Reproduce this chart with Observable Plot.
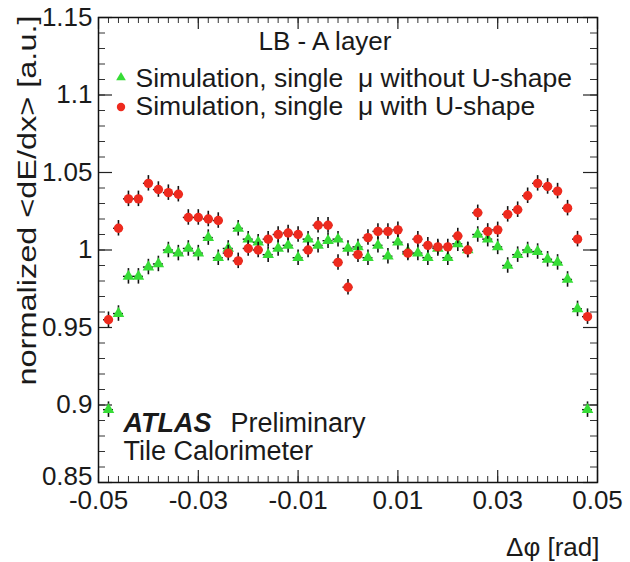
<!DOCTYPE html>
<html><head><meta charset="utf-8">
<script src="https://cdn.jsdelivr.net/npm/d3@7"></script>
<script src="https://cdn.jsdelivr.net/npm/@observablehq/plot@0.6"></script>
<style>body{margin:0;background:#fff}</style>
</head><body><div id="chart"></div>
<script>
// ---- data ----
const phi = [-0.048,-0.046,-0.044,-0.042,-0.040,-0.038,-0.036,-0.034,-0.032,-0.030,-0.028,-0.026,-0.024,-0.022,-0.020,-0.018,-0.016,-0.014,-0.012,-0.010,-0.008,-0.006,-0.004,-0.002,0.000,0.002,0.004,0.006,0.008,0.010,0.012,0.014,0.016,0.018,0.020,0.022,0.024,0.026,0.028,0.030,0.032,0.034,0.036,0.038,0.040,0.042,0.044,0.046,0.048];
const withoutUShape = [0.897,0.959,0.983,0.983,0.989,0.991,1.000,0.998,1.001,0.998,1.008,0.995,1.001,1.014,1.007,1.005,0.997,1.001,1.003,0.995,1.007,1.003,1.006,1.007,1.001,1.002,0.995,1.003,0.996,1.005,0.999,0.998,0.995,1.001,0.995,1.004,1.000,1.010,1.007,1.002,0.990,0.997,1.000,0.999,0.994,0.992,0.981,0.962,0.897];
const withUShape = [0.955,1.014,1.033,1.033,1.043,1.039,1.037,1.036,1.021,1.021,1.020,1.019,0.998,0.993,1.001,1.000,1.007,1.010,1.011,1.010,1.000,1.016,1.016,0.992,0.976,0.997,1.008,1.012,1.012,1.013,0.998,1.007,1.003,1.002,1.002,1.009,1.000,1.024,1.012,1.013,1.023,1.026,1.035,1.043,1.041,1.038,1.027,1.007,0.957];
const yErr = 0.005;      // half height of error bars
const xErr = 0.001;      // half bin width
const seriesNames = ["Simulation, single\u00a0\u00a0\u03bc without U-shape", "Simulation, single\u00a0\u00a0\u03bc with U-shape"];
const xTickValues = [-0.05,-0.03,-0.01,0.01,0.03,0.05];
const xTickLabels = ["-0.05","-0.03","-0.01","0.01","0.03","0.05"];
const yTickValues = [0.9,0.95,1,1.05,1.1,1.15];
const yTickLabels = ["0.9","0.95","1","1.05","1.1","1.15"];
const yBottomValue = [0.85];
const yBottomLabel = ["0.85"];
const xTitle = "\u0394\u03c6 [rad]";
const yTitle = "normalized <dE/dx> [a.u.]";
const label = "LB - A layer";

// ---- layout ----
const W = 630, H = 562, mL = 98, mR = 33, mT = 17, mB = 80;
const X0 = -0.05, X1 = 0.05, Y0 = 0.85, Y1 = 1.15;
const ux = (X1 - X0) / (W - mL - mR), uy = (Y1 - Y0) / (H - mT - mB);
const font = "'Liberation Sans', Arial, Helvetica, sans-serif";
const GREEN = "#36dc36", RED = "#ee2a1e", INK = "#1a1a1a";

const green = phi.map((x, i) => ({x, y: withoutUShape[i]}));
const red = phi.map((x, i) => ({x, y: withUShape[i]}));

const xMinor = d3.range(-50, 51, 2).map(d => d / 1000);
const yMinor = d3.range(85, 116).map(d => d / 100);
const yMajor = yBottomValue.concat(yTickValues);

function errBars(data) {
  return [
    Plot.ruleX(data, {x: "x", y1: d => d.y - yErr, y2: d => d.y + yErr, stroke: "#111", strokeWidth: 1.6}),
    Plot.ruleY(data, {y: "y", x1: d => d.x - xErr, x2: d => d.x + xErr, stroke: "#111", strokeWidth: 1.4})
  ];
}

const chart = Plot.plot({
  width: W, height: H,
  marginLeft: mL, marginRight: mR, marginTop: mT, marginBottom: mB,
  x: {domain: [X0, X1], label: null},
  y: {domain: [Y0, Y1], label: null},
  style: {fontFamily: font, background: "#fff", color: INK},
  marks: [
    // inner ticks on all four sides
    Plot.ruleX(xMinor, {x: d => d, y1: Y0, y2: Y0 + 6 * uy, stroke: "#333", strokeWidth: 1}),
    Plot.ruleX(xMinor, {x: d => d, y1: Y1 - 6 * uy, y2: Y1, stroke: "#333", strokeWidth: 1}),
    Plot.ruleX(xTickValues, {x: d => d, y1: Y0, y2: Y0 + 12 * uy, stroke: "#222", strokeWidth: 1.2}),
    Plot.ruleX(xTickValues, {x: d => d, y1: Y1 - 12 * uy, y2: Y1, stroke: "#222", strokeWidth: 1.2}),
    Plot.ruleY(yMinor, {y: d => d, x1: X0, x2: X0 + 7 * ux, stroke: "#333", strokeWidth: 1}),
    Plot.ruleY(yMinor, {y: d => d, x1: X1 - 7 * ux, x2: X1, stroke: "#333", strokeWidth: 1}),
    Plot.ruleY(yMajor, {y: d => d, x1: X0, x2: X0 + 14 * ux, stroke: "#222", strokeWidth: 1.2}),
    Plot.ruleY(yMajor, {y: d => d, x1: X1 - 14 * ux, x2: X1, stroke: "#222", strokeWidth: 1.2}),
    Plot.frame({stroke: "#111", strokeWidth: 1.5}),
    Plot.axisX({anchor: "bottom", ticks: xTickValues, tickSize: 0, tickPadding: 8, fontSize: 26, label: null,
      tickFormat: d => xTickLabels[xTickValues.indexOf(d)], fill: INK}),
    Plot.axisY({anchor: "left", ticks: yTickValues, tickSize: 0, tickPadding: 6, fontSize: 26, label: null,
      tickFormat: d => yTickLabels[yTickValues.indexOf(d)], fill: INK}),
    Plot.axisY({anchor: "left", ticks: yBottomValue, tickSize: 0, tickPadding: 6, fontSize: 26, label: null, dy: -6,
      tickFormat: d => yBottomLabel[yBottomValue.indexOf(d)], fill: INK}),
    // series
    ...errBars(green),
    Plot.dot(green, {x: "x", y: "y", symbol: "triangle", r: 4.3, fill: GREEN, stroke: null}),
    ...errBars(red),
    Plot.dot(red, {x: "x", y: "y", symbol: "circle", r: 4.7, fill: RED, stroke: null}),
    // titles
    Plot.text([xTitle], {text: d => d, frameAnchor: "bottom-right", dx: 2, dy: 65, textAnchor: "end", lineAnchor: "middle", fontSize: 26, fill: INK}),
    Plot.text([yTitle], {text: d => d, frameAnchor: "top-left", dx: -71, dy: -2, rotate: -90, textAnchor: "end", lineAnchor: "middle", fontSize: 26, fill: INK}),
    // annotations & legend
    Plot.text([label], {text: d => d, frameAnchor: "top-left", dx: 160, dy: 24, textAnchor: "start", lineAnchor: "middle", fontSize: 26, fill: INK}),
    Plot.dot([0], {frameAnchor: "top-left", dx: 22.5, dy: 60, symbol: "triangle", r: 3.6, fill: GREEN}),
    Plot.dot([0], {frameAnchor: "top-left", dx: 22.5, dy: 89.5, symbol: "circle", r: 4.2, fill: RED}),
    Plot.text([seriesNames[0]], {text: d => d, frameAnchor: "top-left", dx: 37, dy: 61, textAnchor: "start", lineAnchor: "middle", fontSize: 26.5, fill: INK}),
    Plot.text([seriesNames[1]], {text: d => d, frameAnchor: "top-left", dx: 37, dy: 89.5, textAnchor: "start", lineAnchor: "middle", fontSize: 26.5, fill: INK}),
    Plot.text(["ATLAS"], {text: d => d, frameAnchor: "top-left", dx: 25, dy: 406, textAnchor: "start", lineAnchor: "middle", fontSize: 27, fontWeight: "bold", fontStyle: "italic", fill: INK}),
    Plot.text(["Preliminary"], {text: d => d, frameAnchor: "top-left", dx: 132, dy: 406, textAnchor: "start", lineAnchor: "middle", fontSize: 27, fill: INK}),
    Plot.text(["Tile Calorimeter"], {text: d => d, frameAnchor: "top-left", dx: 25, dy: 434, textAnchor: "start", lineAnchor: "middle", fontSize: 27, fill: INK})
  ]
});
// stretch y title to its length in the reference
d3.select(chart).selectAll("text").filter(function() { return this.textContent === yTitle; })
  .attr("textLength", 370).attr("lengthAdjust", "spacingAndGlyphs");
document.getElementById("chart").appendChild(chart);
</script>
</body></html>
